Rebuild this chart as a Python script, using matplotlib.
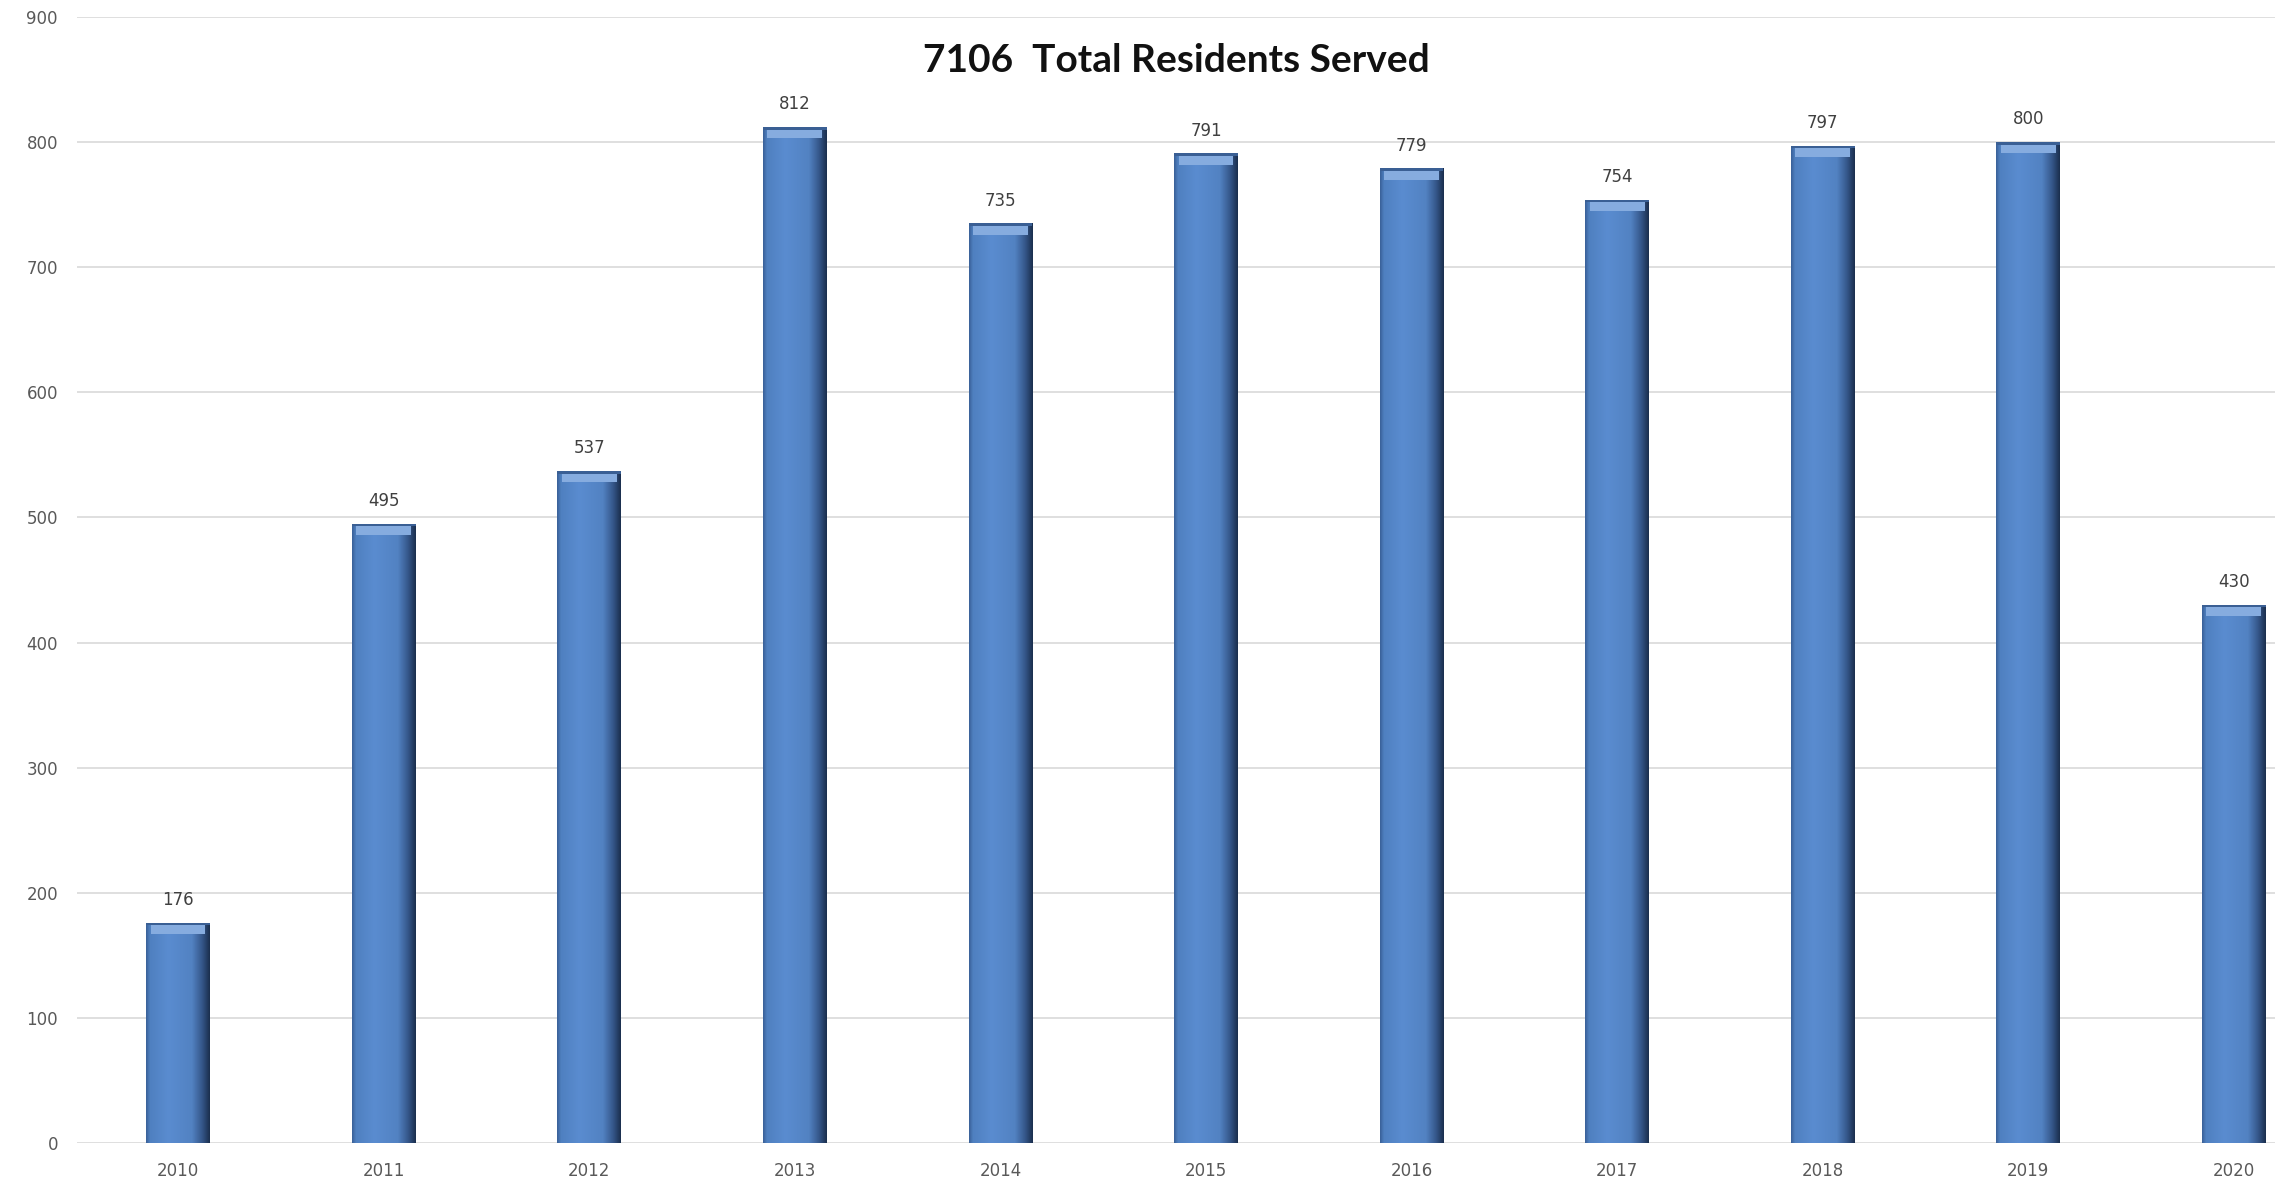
import numpy as np
import matplotlib
matplotlib.use("Agg")
import matplotlib.pyplot as plt
from matplotlib.colors import LinearSegmentedColormap

years = ["2010", "2011", "2012", "2013", "2014", "2015",
         "2016", "2017", "2018", "2019", "2020"]
residents = [176, 495, 537, 812, 735, 791, 779, 754, 797, 800, 430]
title = "7106  Total Residents Served"

fig = plt.figure(figsize=(22.75, 11.86), dpi=100)
ax = fig.add_axes([0.034, 0.0363, 0.966, 0.9494])

x = np.arange(len(years))
w = 0.31
bars = ax.bar(x, residents, width=w, color="#5688CA", zorder=3)

# horizontal shading across each bar (dark right edge, like the excel bevel)
shade = LinearSegmentedColormap.from_list(
    "shade", [(0.0, "#3A6199"), (0.06, "#4F80C0"), (0.35, "#5A8CD0"),
              (0.72, "#5282C2"), (0.88, "#35578A"), (1.0, "#1B2F4E")])
grad = np.linspace(0, 1, 200).reshape(1, -1)
for b in bars:
    bx, by = b.get_x(), b.get_y()
    im = ax.imshow(grad, cmap=shade, aspect="auto", zorder=4,
                   extent=[bx, bx + b.get_width(), by, by + b.get_height()])
    im.set_clip_path(b)

# light bevel band at the top of each bar
vals = np.array(residents)
ax.bar(x, 7, bottom=vals - 9, width=w * 0.86,
       color="#86ACDF", zorder=5)
ax.bar(x, 2, bottom=vals - 2, width=w,
       color="#3A5F94", zorder=5)

for xi, v in zip(x, residents):
    ax.text(xi, v + 11, str(v), ha="center", va="bottom",
            fontsize=12, color="#404040", zorder=6)

ax.set_xlim(-0.49, 10.2)
ax.set_ylim(0, 900)
ax.set_yticks(range(0, 901, 100))
ax.set_xticks(x)
ax.set_xticklabels(years)
ax.tick_params(axis="both", length=0, labelsize=12, labelcolor="#595959")
ax.tick_params(axis="x", pad=14)
ax.tick_params(axis="y", pad=14)
ax.grid(axis="y", color="#D9D9D9", linewidth=1.2, zorder=0)
for s in ax.spines.values():
    s.set_visible(False)

fig.text(0.517, 0.949, title, ha="center", va="center",
         fontsize=28, fontweight="bold", family="Lato", color="#111111")

fig.savefig("out.png", dpi=100)
